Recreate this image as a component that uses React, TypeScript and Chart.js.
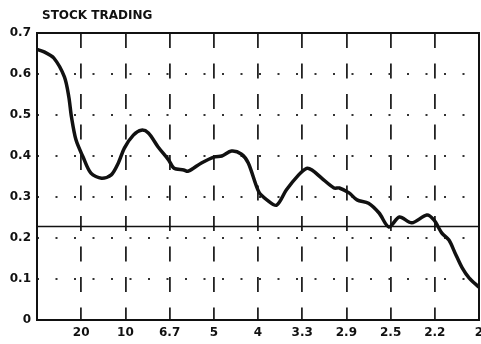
import React, { useEffect, useRef } from "react";
import { Chart, registerables } from "chart.js";

Chart.register(...registerables);

const titleText = "STOCK TRADING";

// frequency (cycles per period) and spectral value
const freq = [
  0.0, 0.008, 0.019, 0.031, 0.036, 0.039, 0.044, 0.052, 0.061, 0.073, 0.084,
  0.092, 0.099, 0.109, 0.118, 0.126, 0.137, 0.149, 0.155, 0.166, 0.171, 0.186,
  0.201, 0.209, 0.22, 0.231, 0.239, 0.251, 0.26, 0.271, 0.282, 0.296, 0.305,
  0.311, 0.322, 0.336, 0.342, 0.353, 0.362, 0.375, 0.387, 0.398, 0.41, 0.424,
  0.441, 0.449, 0.458, 0.466, 0.473, 0.481, 0.489, 0.5,
];
const power = [
  0.66, 0.654, 0.639, 0.593, 0.544, 0.495, 0.44, 0.398, 0.358, 0.346, 0.354,
  0.383, 0.42, 0.451, 0.463, 0.456, 0.422, 0.39, 0.37, 0.366, 0.363, 0.383,
  0.398, 0.4, 0.412, 0.405, 0.383, 0.312, 0.293, 0.28, 0.317, 0.354, 0.37,
  0.366, 0.346, 0.322, 0.322, 0.31, 0.293, 0.285, 0.261, 0.227, 0.251, 0.237,
  0.256, 0.244, 0.212, 0.195, 0.163, 0.127, 0.102, 0.08,
];

const thresholdX = [0, 0.5];
const thresholdY = [0.228, 0.228];

const xTickValues = [0.05, 0.1, 0.15, 0.2, 0.25, 0.3, 0.35, 0.4, 0.45, 0.5];
const xTickLabels = ["20", "10", "6.7", "5", "4", "3.3", "2.9", "2.5", "2.2", "2"];
const yTickLabels = ["0", "0.1", "0.2", "0.3", "0.4", "0.5", "0.6", "0.7"];

const FONT = "'DejaVu Sans', sans-serif";

export default function App() {
  const ref = useRef<HTMLCanvasElement | null>(null);

  useEffect(() => {
    if (!ref.current) return;
    const titlePlugin = {
      id: "titleText",
      afterDraw(chart: any) {
        const ctx = chart.ctx;
        ctx.save();
        ctx.fillStyle = "#111";
        ctx.font = `bold 12px ${FONT}`;
        ctx.textBaseline = "alphabetic";
        ctx.textAlign = "left";
        ctx.fillText(titleText, 42, 19);
        ctx.restore();
      },
    };
    const boxPlugin = {
      id: "boxBorder",
      afterDatasetsDraw(chart: any) {
        const { ctx, chartArea } = chart;
        ctx.save();
        ctx.strokeStyle = "#111";
        ctx.lineWidth = 2;
        ctx.strokeRect(
          chartArea.left,
          chartArea.top,
          chartArea.right - chartArea.left,
          chartArea.bottom - chartArea.top
        );
        ctx.restore();
      },
    };

    const chart = new Chart(ref.current, {
      type: "line",
      data: {
        datasets: [
          {
            data: freq.map((f, i) => ({ x: f, y: power[i] })),
            borderColor: "#111",
            borderWidth: 3.5,
            pointRadius: 0,
            tension: 0.3,
            fill: false,
          },
          {
            data: thresholdX.map((f, i) => ({ x: f, y: thresholdY[i] })),
            borderColor: "#111",
            borderWidth: 1.3,
            pointRadius: 0,
            tension: 0,
            fill: false,
          },
        ],
      },
      options: {
        animation: false,
        responsive: false,
        layout: { padding: { top: 33, right: 2, left: 0, bottom: 0 } },
        plugins: {
          legend: { display: false },
          title: { display: false },
          tooltip: { enabled: false },
        },
        scales: {
          x: {
            type: "linear",
            min: 0,
            max: 0.5,
            afterBuildTicks: (scale: any) => {
              scale.ticks = xTickValues.map((v) => ({ value: v }));
            },
            afterFit: (scale: any) => {
              scale.height = 24;
              scale.paddingLeft = 0;
              scale.paddingRight = 0;
            },
            ticks: {
              autoSkip: false,
              maxRotation: 0,
              padding: 6,
              color: "#111",
              font: { family: FONT, size: 12, weight: "bold" },
              callback: (_v: any, i: number) => xTickLabels[i],
            },
            grid: {
              drawTicks: false,
              lineWidth: 1.8,
              color: (c: any) =>
                c.index === xTickValues.length - 1 ? "rgba(0,0,0,0)" : "#222",
            },
            border: { display: false, dash: [15, 15.5] },
          },
          y: {
            min: 0,
            max: 0.7,
            afterBuildTicks: (scale: any) => {
              scale.ticks = yTickLabels.map((_, i) => ({ value: i / 10 }));
            },
            afterFit: (scale: any) => {
              scale.width = 37;
              scale.paddingTop = 0;
              scale.paddingBottom = 0;
            },
            ticks: {
              padding: 6,
              color: "#111",
              font: { family: FONT, size: 12, weight: "bold" },
              callback: (_v: any, i: number) => yTickLabels[i],
            },
            grid: {
              drawTicks: false,
              lineWidth: 2,
              color: (c: any) =>
                c.index === 0 || c.index === yTickLabels.length - 1
                  ? "rgba(0,0,0,0)"
                  : "#333",
            },
            border: { display: false, dash: [2, 16.5] },
          },
        },
      },
      plugins: [titlePlugin, boxPlugin],
    } as any);

    return () => chart.destroy();
  }, []);

  return (
    <div style={{ position: "fixed", left: 0, top: 0, width: 481, height: 344, background: "#fff" }}>
      <canvas ref={ref} width={481} height={344} style={{ display: "block" }} />
    </div>
  );
}
